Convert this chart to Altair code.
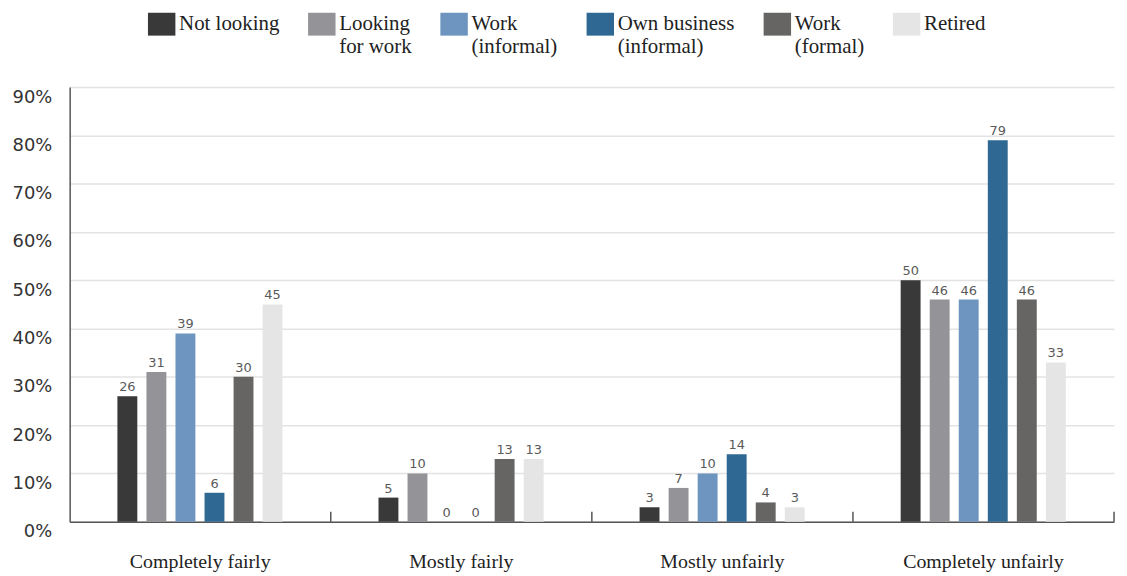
import altair as alt
import pandas as pd

categories = ["Completely fairly", "Mostly fairly", "Mostly unfairly", "Completely unfairly"]
series = ["Not looking", "Looking for work", "Work (informal)", "Own business (informal)", "Work (formal)", "Retired"]
colors = ["#393939", "#949398", "#6e95bf", "#2e6893", "#666563", "#e5e5e5"]

not_looking = [26, 5, 3, 50]
looking_for_work = [31, 10, 7, 46]
work_informal = [39, 0, 10, 46]
own_business_informal = [6, 0, 14, 79]
work_formal = [30, 13, 4, 46]
retired = [45, 13, 3, 33]

y_ticks = [0, 10, 20, 30, 40, 50, 60, 70, 80, 90]

values = [not_looking, looking_for_work, work_informal, own_business_informal, work_formal, retired]
rows = []
for s, vals in zip(series, values):
    for c, v in zip(categories, vals):
        rows.append({"category": c, "series": s, "value": v})
df = pd.DataFrame(rows)
cat_df = pd.DataFrame({"category": categories})

W, H = 1050, 437

x_enc = alt.X("category:N", sort=categories,
              scale=alt.Scale(domain=categories, paddingInner=0, paddingOuter=0),
              axis=alt.Axis(title=None, labelFont="Liberation Serif", labelFontSize=20,
                            labelColor="#222222", labelPadding=30, labelAngle=0,
                            ticks=False, domainColor="#555555", domainWidth=1.5,
                            grid=False, labelLimit=400))
xo_enc = alt.XOffset("series:N", sort=series,
                     scale=alt.Scale(domain=series, range=[48, 214], paddingInner=0.315, paddingOuter=0))

legend_expr = ("indexof(datum.label, ' (') >= 0 || indexof(datum.label, 'Looking ') == 0 ? "
               "split(replace(replace(datum.label, ' (', '|('), 'Looking ', 'Looking|'), '|') : "
               "[datum.label, ' ']")

bars = alt.Chart(df).mark_bar().encode(
    x=x_enc,
    xOffset=xo_enc,
    y=alt.Y("value:Q", scale=alt.Scale(domain=[0, 90], nice=False),
            axis=alt.Axis(title=None, values=y_ticks, labelExpr="datum.value + '%'",
                          labelFont="DejaVu Sans", labelFontSize=18, labelColor="#333333",
                          labelPadding=18, labelOffset=10, ticks=False,
                          domainColor="#555555", domainWidth=1.5,
                          gridColor="#e3e3e3", gridWidth=1.5)),
    color=alt.Color("series:N", sort=series,
                    scale=alt.Scale(domain=series, range=colors),
                    legend=alt.Legend(title=None, orient="none", direction="horizontal",
                                      legendX=81, legendY=-75, padding=0,
                                      symbolType="M-1.2,-1H1.2V1H-1.2Z", symbolSize=529,
                                      symbolStrokeWidth=0, symbolOpacity=1,
                                      labelFont="Liberation Serif", labelFontSize=21,
                                      labelColor="#222222", labelOffset=6, labelLimit=300,
                                      columnPadding=28,
                                      labelExpr=legend_expr)),
)

labels = alt.Chart(df).mark_text(baseline="alphabetic", dy=-5, font="DejaVu Sans",
                                 fontSize=13, color="#5a5a5a").encode(
    x=alt.X("category:N", sort=categories),
    xOffset=alt.XOffset("series:N", sort=series),
    y="value:Q",
    text="value:Q",
)

ticks = alt.Chart(cat_df).mark_rule(color="#555555", strokeWidth=1.5).encode(
    x=alt.X("category:N", sort=categories, bandPosition=1),
    y=alt.value(H - 10),
    y2=alt.value(H),
)

chart = alt.layer(bars, labels, ticks).properties(
    width=W, height=H,
    autosize=alt.AutoSizeParams(type="none"),
    padding={"left": 62, "top": 78, "right": 5, "bottom": 50},
).configure_view(stroke=None).configure_axisY(domain=True)

chart.save("out.html", embed_options={"renderer": "svg", "actions": False})
